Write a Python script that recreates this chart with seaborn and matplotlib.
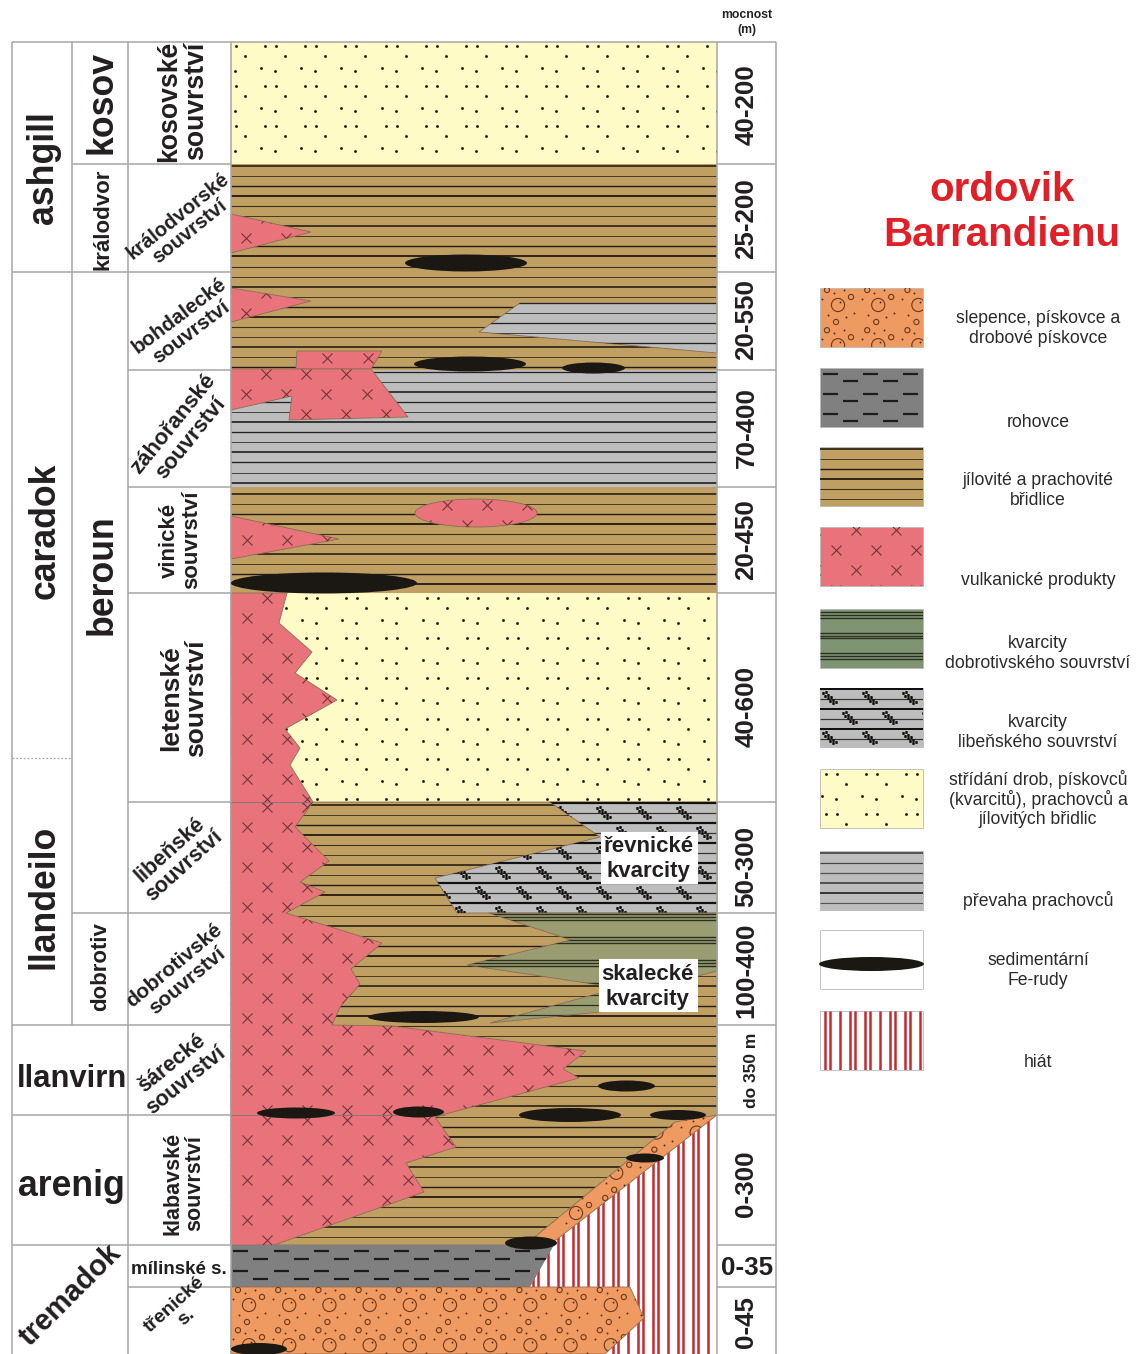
import numpy as np
import matplotlib
matplotlib.use("Agg")
import matplotlib.pyplot as plt
from matplotlib.patches import Polygon, Ellipse
import seaborn as sns

sns.set_theme(style="white")
plt.rcParams['font.family'] = ['Liberation Sans', 'DejaVu Sans']

# ---------- colours ----------
BROWN, PINK, YELLOW, GREY = '#C09F62', '#E9737A', '#FEFBC6', '#BDBDBD'
ORANGE, CHERT, OLIVE, GREEN = '#EF9A60', '#808080', '#9A9C72', '#7F9472'
ORE, RED, GRID = '#1B1713', '#C8292F', '#A6A6A6'

# ---------- table structure (in reference pixels) ----------
thickness = ['40-200', '25-200', '20-550', '70-400', '20-450', '40-600',
             '50-300', '100-400', 'do 350 m', '0-300', '0-35', '0-45']
thickness_y = [105, 219, 320, 428, 540, 706, 866, 970, 1070, 1184, 1267, 1322]

# ---------- lithology outlines ----------
grey_wedge = [(520, 303), (717, 303), (717, 353), (479, 332)]
brown_low = [(231, 802), (717, 802), (717, 1115), (535, 1245), (231, 1245)]
revnice = [(550, 802), (717, 802), (717, 913), (457, 913), (435, 878), (600, 837)]
skalec_up = [(489, 913), (717, 913), (717, 971), (650, 988), (600, 985), (467, 965), (571, 940)]
skalec_low = [(490, 1023), (600, 993), (650, 985), (650, 1000), (600, 1012)]
pink_main = [(231, 593), (287, 593), (279, 623), (312, 652), (295, 673), (337, 700), (285, 729),
             (300, 748), (290, 765), (313, 802), (295, 827), (329, 861), (300, 882), (325, 892),
             (286, 913), (382, 943), (351, 969), (360, 984), (340, 1007), (332, 1025), (392, 1026),
             (586, 1051), (563, 1069), (579, 1078), (442, 1115), (435, 1117), (456, 1147),
             (406, 1163), (424, 1192), (274, 1245), (231, 1245)]
pink_kral = [(231, 214), (311, 232), (231, 253)]
pink_bohd = [(231, 288), (311, 301), (231, 322)]
pink_block = [(297, 351), (382, 351), (371, 369), (296, 369)]
pink_zah = [(231, 369), (371, 369), (408, 417), (289, 420), (292, 396), (231, 410)]
pink_vin = [(231, 516), (339, 539), (231, 559)]
orange_strip = [(717, 1115), (556, 1240), (545, 1245), (525, 1245), (675, 1122)]
hiatus = [(717, 1115), (717, 1354), (600, 1354), (644, 1318), (630, 1287), (528, 1287), (556, 1240)]
chert = [(231, 1245), (554, 1245), (530, 1287), (231, 1287)]
orange_base = [(231, 1287), (630, 1287), (644, 1318), (605, 1354), (231, 1354)]

# ore lenses: left, right, centre y, height
ore_left = [405, 414, 562, 231, 368, 257, 393, 519, 650, 598, 626, 505, 231]
ore_right = [527, 526, 625, 417, 479, 335, 444, 621, 706, 655, 664, 557, 287]
ore_y = [263, 364, 368, 583, 1017, 1113, 1112, 1115, 1115, 1086, 1158, 1243, 1349]
ore_h = [17, 15, 11, 21, 12, 11, 11, 14, 10, 11, 9, 13, 12]

# pattern tiles (offsets inside a 40 px tile)
dot_dx = [0, 11, 20, -4, 10]
dot_dy = [0, 0, 10, 22, 25]
ring_dx = [-11, 13, -2]
ring_dy = [-15, -8, 17]
speck_dx = [-16, -4, 6, 16, 8, -10, 2]
speck_dy = [-6, -12, -15, 8, 12, 10, -3]
squig_dx = [0, 3, 2, 5, 5, 8, 7, 10, 10, 13]
squig_dy = [0, -1, 3, 2, 5, 4, 8, 7, 10, 9]
red_dx = [0, 4.5, 15, 25, 30]
line_w = [1.5, 1.0, 1.4, 1.7, 1.1, 1.0]
line_c = ['#17130c', '#4a3c22', '#231c10', '#17130c', '#3a2f1b', '#4a3c22']

# legend
swatch_top = [288, 368, 447, 527, 609, 688, 769, 851, 930, 1011]
swatch_h = 59
legend_lines = [(317, 'slepence, pískovce a'), (337, 'drobové pískovce'), (421, 'rohovce'),
                (479, 'jílovité a prachovité'), (499, 'břidlice'), (579, 'vulkanické produkty'),
                (642, 'kvarcity'), (662, 'dobrotivského souvrství'), (721, 'kvarcity'),
                (741, 'libeňského souvrství'), (778, 'střídání drob, pískovců'),
                (798, '(kvarcitů), prachovců a'), (818, 'jílovitých břidlic'),
                (899, 'převaha prachovců'), (959, 'sedimentární'), (979, 'Fe-rudy'), (1061, 'hiát')]

# ---------- drawing helpers ----------
fig = plt.figure(figsize=(11.42, 13.54), dpi=100)
ax = fig.add_axes([0, 0, 1, 1])
ax.set_xlim(0, 1142)
ax.set_ylim(1354, 0)
ax.axis('off')
_z = [1]


def nz():
    _z[0] += 1
    return _z[0]


def poly(pts, fill, edge='#8b6d55', lw=0.6):
    p = Polygon(pts, closed=True, facecolor=fill, edgecolor=edge, linewidth=lw, zorder=nz())
    ax.add_patch(p)
    return p


def rect(x0, y0, x1, y1, fill, edge='none', lw=0.6):
    return poly([(x0, y0), (x1, y0), (x1, y1), (x0, y1)], fill, edge, lw)


def box_of(p):
    ext = p.get_path().transformed(p.get_patch_transform()).get_extents()
    return ext.x0, ext.y0, ext.x1, ext.y1


def hl(p, y0, step=10.05, w=None, c=None):
    x0, y1, x1, y2 = box_of(p)
    ys = np.arange(y0, y2 + 1, step)
    w = w or line_w
    c = c or line_c
    lc = ax.hlines(ys, x0, x1, linewidths=[w[i % len(w)] * .72 for i in range(len(ys))],
                   colors=[c[i % len(c)] for i in range(len(ys))], zorder=nz())
    lc.set_clip_path(p)


def tile(p, ox, oy, px=40.2, py=40.2):
    x0, y0, x1, y1 = box_of(p)
    out = []
    for j in range(int((y0 - oy) // py) - 1, int((y1 - oy) // py) + 2):
        for i in range(int((x0 - ox) // px) - 1, int((x1 - ox) // px) + 2):
            out.append((ox + i * px, oy + j * py))
    return np.array(out)


def dots(p, ox, oy):
    c = tile(p, ox, oy)
    xs = np.concatenate([c[:, 0] + d for d in dot_dx])
    ys = np.concatenate([c[:, 1] + d for d in dot_dy])
    sns.scatterplot(x=xs, y=ys, marker='o', s=4.2, color='#20190f', linewidth=0, ax=ax,
                    legend=False, zorder=nz())
    ax.collections[-1].set_clip_path(p)


def crosses(p, ox, oy, ymin=None, ymax=None):
    c = tile(p, ox, oy)
    xs = np.concatenate([c[:, 0], c[:, 0] + 19.5])
    ys = np.concatenate([c[:, 1], c[:, 1] - 20.5])
    if ymin is not None:
        keep = (ys >= ymin) & (ys <= ymax)
        xs, ys = xs[keep], ys[keep]
    sns.scatterplot(x=xs, y=ys, marker='x', s=52, color='#6d3136', linewidth=.75, ax=ax,
                    legend=False, zorder=nz())
    ax.collections[-1].set_clip_path(p)


def conglomerate(p, ox, oy):
    c = tile(p, ox, oy)
    for s, pts in ((90, c), (14, None)):
        if pts is None:
            xs = np.concatenate([c[:, 0] + d for d in ring_dx])
            ys = np.concatenate([c[:, 1] + d for d in ring_dy])
        else:
            xs, ys = pts[:, 0], pts[:, 1]
        h = ax.scatter(xs, ys, marker='o', s=s, facecolors='none', edgecolors='#6b3a1d',
                       linewidths=.8, zorder=nz())
        h.set_clip_path(p)
    xs = np.concatenate([c[:, 0] + d for d in speck_dx])
    ys = np.concatenate([c[:, 1] + d for d in speck_dy])
    sns.scatterplot(x=xs, y=ys, marker='o', s=1.8, color='#4a2a12', linewidth=0, ax=ax,
                    legend=False, zorder=nz())
    ax.collections[-1].set_clip_path(p)


def dashes(p, ox, oy, gap=8):
    c = tile(p, ox, oy, 40.2, 20)
    for sh, yy in ((0, 0), (20, gap)):
        lc = ax.hlines(c[:, 1] + yy, c[:, 0] + sh - 7.5, c[:, 0] + sh + 7.5,
                       colors='#1c1c1c', linewidths=1.6, zorder=nz())
        lc.set_clip_path(p)


def squiggles(p, ox, oy):
    c = tile(p, ox, oy, 40.2, 40)
    c = np.vstack([c, c + np.array([20, 20])])
    xs = np.concatenate([c[:, 0] + d for d in squig_dx])
    ys = np.concatenate([c[:, 1] + d for d in squig_dy])
    h = ax.scatter(xs, ys, marker='s', s=3.4, color='#15130f', linewidths=0, zorder=nz())
    h.set_snap(False)
    h.set_clip_path(p)


def red_lines(p, ox):
    x0, y0, x1, y1 = box_of(p)
    for k in range(-1, int((x1 - ox) // 40) + 2):
        for d in red_dx:
            lc = ax.vlines(ox + k * 40 + d, y0, y1, colors=RED, linewidths=1.8, zorder=nz())
            lc.set_clip_path(p)


def green_bands(p, y0, step):
    x0, y1, x1, y2 = box_of(p)
    for yb in np.arange(y0, y2 + 1, step):
        lc = ax.hlines([yb - 2.6, yb, yb + 2.6], x0, x1,
                       colors='#2a3020', linewidths=1.0, zorder=nz())
        lc.set_clip_path(p)


def ore_lens(x0, x1, y, h):
    e = Ellipse(((x0 + x1) / 2, y), x1 - x0, h, facecolor=ORE, edgecolor='none', zorder=nz())
    ax.add_patch(e)


# ---------- column body ----------
cx0, cx1 = 231, 717
p = rect(cx0, 42, cx1, 164, YELLOW)
dots(p, 265, 46)
p = rect(cx0, 164, cx1, 370, BROWN)
hl(p, 166)
p = poly(grey_wedge, GREY)
hl(p, 303, w=[1.3, 1.0], c=['#222222', '#444444'])
p = rect(cx0, 370, cx1, 487, GREY)
hl(p, 372, w=[1.3, 1.0, 1.6], c=['#222222', '#444444', '#181818'])
p = rect(cx0, 487, cx1, 593, BROWN)
hl(p, 494)
p = rect(cx0, 593, cx1, 802, YELLOW)
dots(p, 306, 598)
p = poly(brown_low, BROWN)
hl(p, 805)
p = poly(revnice, GREY)
hl(p, 803, w=[2.2, 1.2], c=['#111111', '#333333'])
squiggles(p, 597, 808)
p = poly(skalec_up, OLIVE)
green_bands(p, 917, 23)
p = poly(skalec_low, OLIVE)
hl(p, 985, w=[1.2], c=['#2a3020'])

p = poly(pink_main, PINK)
crosses(p, 247, 618, 594, 802)
crosses(p, 247, 827, 802, 913)
crosses(p, 247, 938, 913, 1026)
crosses(p, 247, 1050, 1026, 1115)
crosses(p, 247, 1140, 1115, 1245)
p = poly(pink_kral, PINK)
crosses(p, 246, 238)
p = poly(pink_bohd, PINK)
crosses(p, 246, 313)
p = poly(pink_block, PINK)
crosses(p, 247, 358, 350, 370)
p = poly(pink_zah, PINK)
crosses(p, 246, 394)
p = poly(pink_vin, PINK)
crosses(p, 247, 540)
p = Ellipse((476, 513), 122, 28, facecolor=PINK, edgecolor='#8b6d55', linewidth=.6, zorder=nz())
ax.add_patch(p)
crosses(p, 447, 505)

p = poly(hiatus, 'white', edge='none')
red_lines(p, 533)
p = poly(orange_strip, ORANGE)
conglomerate(p, 576, 1213)
p = poly(chert, CHERT, edge='none')
dashes(p, 281, 1251, 8)
p = poly(orange_base, ORANGE)
conglomerate(p, 249, 1305)

# ---------- table grid (horizontal rules stop at the column body) ----------
zgrid = nz()
ax.vlines([12], 42, 1354, colors=GRID, linewidth=1.1, zorder=zgrid)
ax.vlines([72], 42, 1025, colors=GRID, linewidth=1.1, zorder=zgrid)
ax.vlines([128, 231, 717, 776], 42, 1354, colors=GRID, linewidth=1.1, zorder=zgrid)
ax.hlines([42], 12, 776, colors=GRID, linewidth=1.1, zorder=zgrid)
ax.hlines([272, 1025, 1115, 1245], 12, 231, colors=GRID, linewidth=1.1, zorder=zgrid)
ax.hlines([164, 913], 72, 231, colors=GRID, linewidth=1.1, zorder=zgrid)
ax.hlines([370, 487, 593, 802, 1287], 128, 231, colors=GRID, linewidth=1.1, zorder=zgrid)
ax.hlines([164, 272, 370, 487, 593, 802, 913, 1025, 1115, 1245, 1287], 717, 776,
          colors=GRID, linewidth=1.1, zorder=zgrid)
ax.hlines([758], 12, 72, colors=GRID, linewidth=.9, linestyles=(0, (1.5, 1.5)), zorder=zgrid)
ax.hlines([802], 231, 313, colors='#777777', linewidth=.6, zorder=zgrid)
ax.hlines([1115], 231, 445, colors='#777777', linewidth=.6, zorder=zgrid)

for a, b, c, d in zip(ore_left, ore_right, ore_y, ore_h):
    ore_lens(a, b, c, d)

# white boxes
for x0, y0, x1, y1 in ((601, 832, 698, 884), (599, 959, 698, 1012)):
    rect(x0, y0, x1, y1, 'white')


def T(x, y, s, size, rot=0, weight='bold', color='#231f20', ls=1.05):
    if rot == 0:
        y += 3 if size > 15 else 1.5
    elif rot == 90:
        x += 2.5
    ax.text(x, y, s, fontsize=size, rotation=rot, fontweight=weight, color=color, ha='center',
            va='center', rotation_mode='anchor', linespacing=ls, zorder=100000, clip_on=True)


# ---------- labels ----------
T(41, 168, 'ashgill', 25.7, 90)
T(43, 531, 'caradok', 25.7, 90)
T(42, 897, 'llandeilo', 25.7, 90)
T(72, 1076, 'llanvirn', 22.3)
T(71, 1183, 'arenig', 25.7)
T(70, 1295, 'tremadok', 21, 45)
T(100, 102, 'kosov', 25.7, 90)
T(100, 219, 'králodvor', 16, 90)
T(100, 575, 'beroun', 25.7, 90)
T(98, 967, 'dobrotiv', 16, 90)

T(180, 101, 'kosovské\nsouvrství', 19.2, 90)
T(184, 224, 'králodvorské\nsouvrství', 14.6, 39)
T(185, 324, 'bohdalecké\nsouvrství', 14.8, 37)
T(182, 431, 'záhořanské\nsouvrství', 16, 51)
T(178, 540, 'vinické\nsouvrství', 16, 90)
T(181, 698, 'letenské\nsouvrství', 19, 90)
T(177, 858, 'libeňské\nsouvrství', 15.5, 42)
T(181, 973, 'dobrotivské\nsouvrství', 15, 40)
T(179, 1072, 'šárecké\nsouvrství', 15.5, 39)
T(181, 1183, 'klabavské\nsouvrství', 15.5, 90)
T(179, 1268, 'mílinské s.', 13.5)
T(180, 1311, 'třenické\ns.', 14, 42)

for s, y in zip(thickness, thickness_y):
    if s == '0-35':
        T(747, y - 2, s, 18.7)
    elif s == 'do 350 m':
        T(749, y, s, 12.5, 90)
    else:
        T(744, y, s, 18.7, 90)
T(747, 14, 'mocnost', 8.8)
T(747, 28, '(m)', 8.8)

T(648, 843, 'řevnické', 16)
T(648, 868, 'kvarcity', 16)
T(647, 971, 'skalecké', 16)
T(647, 996, 'kvarcity', 16)

T(1002, 187, 'ordovik', 29, color='#E21F26')
T(1002, 232, 'Barrandienu', 29, color='#E21F26')

for y, s in legend_lines:
    T(1038, y, s, 12.7, weight='normal', color='#2a2a2a')

# ---------- legend swatches ----------
lx0, lx1 = 820, 923
st = swatch_top
edge = '#B8B8B8'
p = rect(lx0, st[0], lx1, st[0] + swatch_h, ORANGE, edge)
conglomerate(p, 838, 305)
p = rect(lx0, st[1], lx1, st[1] + swatch_h, CHERT, edge)
dashes(p, 830, 374, 7)
p = rect(lx0, st[2], lx1, st[2] + swatch_h, BROWN, edge)
hl(p, 449)
p = rect(lx0, st[3], lx1, st[3] + swatch_h, PINK, edge)
crosses(p, 836, 550)
p = rect(lx0, st[4], lx1, st[4] + swatch_h, GREEN, edge)
green_bands(p, 615, 20.5)
p = rect(lx0, st[5], lx1, st[5] + swatch_h, GREY, edge)
hl(p, 689, w=[2.0, 1.2], c=['#111111', '#333333'])
squiggles(p, 823, 693)
p = rect(lx0, st[6], lx1, st[6] + swatch_h, YELLOW, edge)
dots(p, 826, 774)
p = rect(lx0, st[7], lx1, st[7] + swatch_h, GREY, edge)
hl(p, 853, w=[1.5, 1.2, 1.3, 1.5, 1.7, 1.1],
   c=['#333333', '#444444', '#555555', '#333333', '#222222', '#555555'])
p = rect(lx0, st[8], lx1, st[8] + swatch_h, 'white', edge)
ore_lens(lx0 - 1, lx1 + 1, 964, 14)
p = rect(lx0, st[9], lx1, st[9] + swatch_h, 'white', edge)
red_lines(p, 825)

fig.savefig('out.png', dpi=100)
